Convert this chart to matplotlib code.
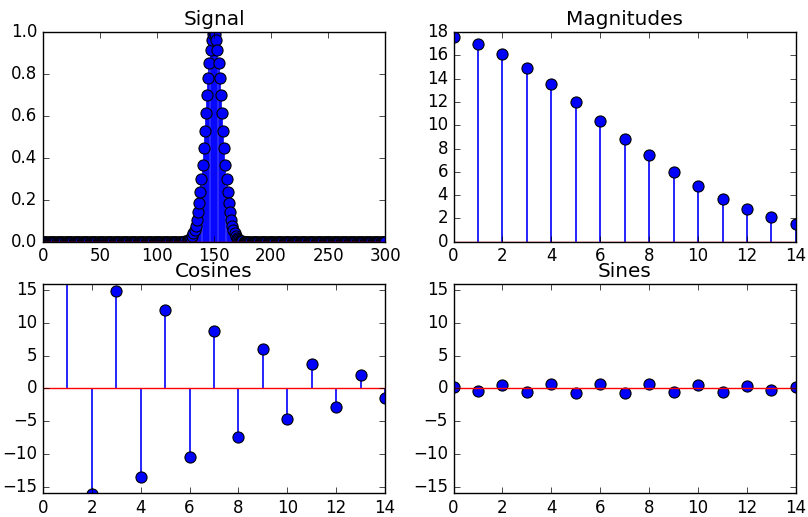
import numpy as np
import matplotlib
matplotlib.use("Agg")
import matplotlib.pyplot as plt

plt.style.use('classic')

# signal: peak at n=150, half profile (offset 0..25)
n = np.arange(301)
center = 150
half_profile = [1.000, 0.990, 0.961, 0.914, 0.852, 0.779, 0.698, 0.613, 0.527,
                0.445, 0.368, 0.298, 0.237, 0.185, 0.141, 0.105, 0.077, 0.056,
                0.039, 0.027, 0.018, 0.012, 0.008, 0.005, 0.003, 0.002]
signal = np.zeros(len(n))
for d, v in enumerate(half_profile):
    signal[center + d] = v
    signal[center - d] = v

k = np.arange(15)
magnitudes = [17.6, 17.0, 16.1, 14.9, 13.5, 12.0, 10.4, 8.8, 7.4, 6.0, 4.8, 3.7, 2.8, 2.1, 1.5]
cosines = [-17.6, 17.0, -16.1, 14.9, -13.5, 12.0, -10.4, 8.8, -7.4, 6.0, -4.7, 3.7, -2.8, 2.1, -1.5]
sines = [0.15, -0.35, 0.5, -0.6, 0.65, -0.75, 0.7, -0.75, 0.65, -0.6, 0.55, -0.5, 0.4, -0.3, 0.2]

fig = plt.figure(figsize=(8.08, 5.17), dpi=100)
fig.subplots_adjust(left=0.053, right=0.985, top=0.938, bottom=0.046,
                    wspace=0.2, hspace=0.2)


def stem_panel(ax, x, y, title):
    markers, stems, base = ax.stem(x, y, linefmt='b-', markerfmt='bo', basefmt='r-')
    markers.set_markersize(8)
    markers.set_markeredgecolor('k')
    markers.set_markeredgewidth(0.8)
    stems.set_linewidth(1.2)
    ax.set_title(title)
    return ax


ax1 = stem_panel(fig.add_subplot(2, 2, 1), n, signal, 'Signal')
ax1.set_xlim(0, 300)
ax1.set_ylim(0, 1)

ax2 = stem_panel(fig.add_subplot(2, 2, 2), k, magnitudes, 'Magnitudes')
ax2.set_xlim(0, 14)
ax2.set_ylim(0, 18)

ax3 = stem_panel(fig.add_subplot(2, 2, 3), k, cosines, 'Cosines')
ax3.set_xlim(0, 14)
ax3.set_ylim(-16, 16)

ax4 = stem_panel(fig.add_subplot(2, 2, 4), k, sines, 'Sines')
ax4.set_xlim(0, 14)
ax4.set_ylim(-16, 16)

fig.savefig('out.png', dpi=100)
